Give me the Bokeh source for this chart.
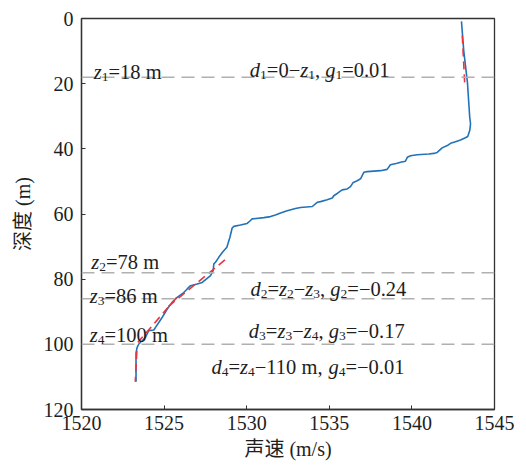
from bokeh.plotting import figure
from bokeh.models import Range1d, FixedTicker, Span, Label
from bokeh.embed import file_html
from bokeh.resources import INLINE

# Measured sound-speed profile (depth in m, sound speed in m/s)
depth = [0.9, 10.0, 19.5, 30.3, 32.3, 34.4, 36.2, 36.6, 37.3, 37.8, 38.3, 39.0,
         39.7, 41.1, 41.4, 41.6, 41.8, 42.1, 42.6, 43.8, 44.1, 44.4, 44.9, 46.3,
         46.7, 47.0, 47.2, 49.2, 49.8, 50.3, 51.6, 52.3, 52.6, 53.7, 54.4, 55.1,
         55.6, 56.2, 56.4, 57.7, 58.0, 58.3, 59.0, 59.7, 60.3, 60.8, 61.1, 61.5,
         62.0, 62.9, 63.4, 63.8, 64.3, 67.2, 70.2, 71.8, 73.3, 74.8, 75.3, 77.4,
         78.9, 81.0, 81.5, 82.0, 83.0, 84.1, 85.6, 87.1, 89.2, 91.7, 94.8, 95.6,
         95.8, 97.9, 98.9, 99.9, 100.9, 102.6, 111.5]
speed = [1543.00, 1543.14, 1543.36, 1543.50, 1543.55, 1543.50, 1543.38, 1543.24,
         1542.94, 1542.64, 1542.34, 1542.14, 1541.83, 1541.53, 1541.33, 1541.02,
         1540.32, 1539.92, 1539.72, 1539.61, 1539.31, 1539.11, 1538.70, 1538.50,
         1538.10, 1537.29, 1537.09, 1536.89, 1536.69, 1536.45, 1536.28, 1536.08,
         1535.78, 1535.48, 1535.27, 1535.18, 1534.87, 1534.47, 1534.27, 1533.97,
         1533.26, 1532.95, 1532.45, 1532.05, 1531.74, 1531.44, 1531.04, 1530.33,
         1530.23, 1530.03, 1529.62, 1529.22, 1529.12, 1528.98, 1528.80, 1528.52,
         1528.31, 1528.11, 1528.01, 1527.97, 1527.81, 1527.31, 1527.00, 1526.60,
         1526.40, 1526.19, 1525.79, 1525.49, 1525.19, 1524.89, 1524.48, 1524.38,
         1524.07, 1523.87, 1523.67, 1523.47, 1523.37, 1523.30, 1523.30]

# Layer boundaries z1..z4 (m) and fitted gradients g1..g4
layer_bounds = [18, 78, 86, 100]
gradients = [0.01, -0.24, -0.17, -0.01]

# Depth span and starting speed of each fitted linear segment
fit_top = [5.2, 74.1, 85.6, 102.0]
fit_bottom = [19.6, 88.9, 99.4, 111.5]
fit_top_speed = [1543.05, 1528.68, 1525.76, 1523.35]

x_ticks = [1520, 1525, 1530, 1535, 1540, 1545]
y_ticks = [0, 20, 40, 60, 80, 100, 120]

# Annotation texts as runs: (text, kind) with kind "it" italic, "sub" subscript, "rm" roman
annotations = [
    [("z", "it"), ("1", "sub"), ("=18 m", "rm")],
    [("d", "it"), ("1", "sub"), ("=0−", "rm"), ("z", "it"), ("1", "sub"), (", ", "rm"),
     ("g", "it"), ("1", "sub"), ("=0.01", "rm")],
    [("z", "it"), ("2", "sub"), ("=78 m", "rm")],
    [("z", "it"), ("3", "sub"), ("=86 m", "rm")],
    [("d", "it"), ("2", "sub"), ("=", "rm"), ("z", "it"), ("2", "sub"), ("−", "rm"),
     ("z", "it"), ("3", "sub"), (", ", "rm"), ("g", "it"), ("2", "sub"), ("=−0.24", "rm")],
    [("z", "it"), ("4", "sub"), ("=100 m", "rm")],
    [("d", "it"), ("3", "sub"), ("=", "rm"), ("z", "it"), ("3", "sub"), ("−", "rm"),
     ("z", "it"), ("4", "sub"), (", ", "rm"), ("g", "it"), ("3", "sub"), ("=−0.17", "rm")],
    [("d", "it"), ("4", "sub"), ("=", "rm"), ("z", "it"), ("4", "sub"), ("−110 m, ", "rm"),
     ("g", "it"), ("4", "sub"), ("=−0.01", "rm")],
]
# Anchor (speed, baseline depth) of each annotation
ann_x = [1520.74, 1530.19, 1520.59, 1520.50, 1530.23, 1520.50, 1530.13, 1527.87]
ann_y = [16.3, 15.8, 74.8, 85.1, 83.0, 97.1, 95.8, 107.1]

SERIF = "Liberation Serif"
TEXT_COLOR = "#1e1e1e"
MAIN_SIZE = 20.5
SUB_SIZE = 13.5
SUB_DROP = 5

# Advance widths (per 1000 em) for the serif face
ADV_RM = {" ": 250, ",": 250, ".": 250, "=": 564, "−": 564, "m": 778}
ADV_IT = {"z": 389, "d": 500, "g": 500}


def run_width(text, kind):
    table = ADV_IT if kind == "it" else ADV_RM
    size = SUB_SIZE if kind == "sub" else MAIN_SIZE
    return sum(table.get(ch, 500) for ch in text) * size / 1000.0


p = figure(width=526, height=467, x_range=Range1d(1520, 1545), y_range=Range1d(120, 0),
           output_backend="svg", toolbar_location=None,
           min_border_left=81, min_border_right=32, min_border_top=18, min_border_bottom=58,
           background_fill_color="white", border_fill_color="white")
p.grid.visible = False
p.outline_line_color = "#333333"
p.outline_line_width = 1.3

p.axis.axis_line_color = "#333333"
p.axis.axis_line_width = 1.3
p.axis.major_tick_line_color = "#333333"
p.axis.major_tick_in = 4
p.axis.major_tick_out = 0
p.axis.minor_tick_line_color = None
p.axis.major_label_text_font = SERIF
p.axis.major_label_text_font_size = "20px"
p.axis.major_label_text_color = TEXT_COLOR
p.axis.axis_label_text_font = "Liberation Serif, Noto Sans CJK SC"
p.axis.axis_label_text_font_size = "20px"
p.axis.axis_label_text_font_style = "normal"
p.axis.axis_label_text_color = TEXT_COLOR

p.xaxis.ticker = FixedTicker(ticks=x_ticks)
p.yaxis.ticker = FixedTicker(ticks=y_ticks)
p.xaxis.major_label_standoff = 6
p.yaxis.major_label_standoff = 8
p.xaxis.axis_label = "声速 (m/s)"
p.yaxis.axis_label = "深度 (m)"
p.xaxis.axis_label_standoff = 5
p.yaxis.axis_label_standoff = 7

# Layer boundaries
for z in layer_bounds:
    p.add_layout(Span(location=z, dimension="width", line_color="#b0b0b0",
                      line_width=1.5, line_dash="13 7"))

# Measured profile
p.line(speed, depth, line_color="#2272b9", line_width=1.6)

# Linear fits per layer, slope taken from the gradients
for top, bot, c0, g in zip(fit_top, fit_bottom, fit_top_speed, gradients):
    c1 = c0 + g * (bot - top)
    p.line([c0, c1], [top, bot], line_color="#e8353b", line_width=1.6, line_dash="8 5")

# Annotations with italic symbols and subscripts
for runs, ax_, ay_ in zip(annotations, ann_x, ann_y):
    offset = 0.0
    for text, kind in runs:
        p.add_layout(Label(
            x=ax_, y=ay_, x_offset=offset, y_offset=-SUB_DROP if kind == "sub" else 0,
            text=text, text_font=SERIF,
            text_font_size=f"{SUB_SIZE if kind == 'sub' else MAIN_SIZE}px",
            text_font_style="italic" if kind == "it" else "normal",
            text_color=TEXT_COLOR, text_baseline="alphabetic", text_align="left"))
        offset += run_width(text, kind)

open("out.html", "w").write(file_html(p, INLINE))
